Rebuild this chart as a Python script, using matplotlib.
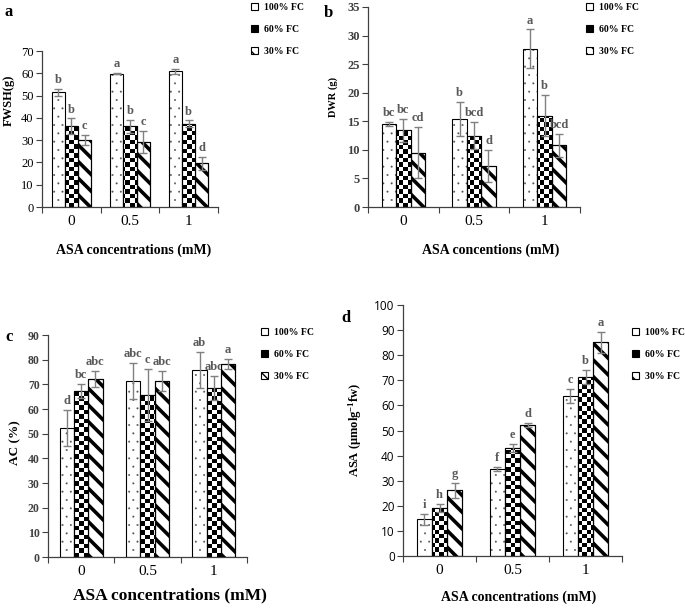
import numpy as np
import matplotlib
matplotlib.use('Agg')
import matplotlib.pyplot as plt
from matplotlib.patches import Patch

plt.rcParams['font.family'] = ['Liberation Serif', 'DejaVu Serif']
plt.rcParams['mathtext.fontset'] = 'custom'
plt.rcParams['mathtext.rm'] = 'Liberation Serif:bold'
plt.rcParams['mathtext.default'] = 'rm'

W, H = 685, 611

concs = ['0', '0.5', '1']
series = ['100% FC', '60% FC', '30% FC']

# panel a - FWSH (g)
fwsh = [[51.4, 59.8, 60.9], [36.2, 36.2, 37.4], [30.0, 29.2, 19.7]]
fwsh_err = [[1.7, 0.3, 1.0], [3.6, 3.0, 1.5], [2.4, 5.0, 2.9]]
fwsh_let = [['b', 'a', 'a'], ['b', 'b', 'b'], ['c', 'c', 'd']]

# panel b - DWR (g)
dwr = [[14.5, 15.4, 27.7], [13.45, 12.5, 16.0], [9.5, 7.2, 10.8]]
dwr_err = [[0.4, 3.0, 3.4], [2.0, 2.4, 3.6], [4.5, 2.8, 2.0]]
dwr_let = [['bc', 'b', 'a'], ['bc', 'bcd', 'b'], ['cd', 'd', 'bcd']]

# panel c - AC (%)
ac = [[52.3, 71.4, 75.9], [67.3, 65.7, 68.6], [72.2, 71.3, 78.2]]
ac_err = [[7.3, 7.2, 7.3], [3.0, 10.6, 4.9], [3.1, 4.2, 2.1]]
ac_let = [['d', 'abc', 'ab'], ['bc', 'c', 'abc'], ['abc', 'abc', 'a']]

# panel d - ASA
asa = [[14.6, 34.6, 63.8], [19.1, 43.1, 71.3], [26.2, 52.1, 85.1]]
asa_err = [[2.3, 0.9, 2.9], [1.7, 1.7, 2.7], [3.0, 0.9, 4.3]]
asa_let = [['i', 'f', 'c'], ['h', 'e', 'b'], ['g', 'd', 'a']]

fig = plt.figure(figsize=(W / 100, H / 100), dpi=100)


def px_ax(l, t, r, b):
    return fig.add_axes([l / W, 1 - b / H, (r - l) / W, (b - t) / H])


def draw_panel(ax, vals, errs, lets, ymax, ystep, bw, ytick_kw, xfs=11):
    x = np.arange(len(concs))
    ax.set_xlim(-0.5, len(concs) - 0.5)
    ax.set_ylim(0, ymax)
    pos = ax.get_position()
    nx = int(pos.width * W / 4.4)
    ny = int(pos.height * H / 4.4)
    board = (np.add.outer(np.arange(ny), np.arange(nx)) % 2).astype(float)
    for i in range(3):
        xs = x + (i - 1) * bw
        if i == 0:
            with plt.rc_context({'hatch.linewidth': 0.2}):
                ax.bar(xs, vals[i], bw, color='white', edgecolor='#555555',
                       hatch='..', linewidth=0, zorder=2)
        elif i == 2:
            with plt.rc_context({'hatch.linewidth': 2.6}):
                ax.bar(xs, vals[i], bw, color='white', edgecolor='black',
                       hatch='\\\\', linewidth=0.8, zorder=2)
        else:
            bars = ax.bar(xs, vals[i], bw, color='white', edgecolor='black',
                          linewidth=0.8, zorder=2)
            for p in bars:
                im = ax.imshow(board, cmap='gray', interpolation='nearest',
                               extent=(-0.5, len(concs) - 0.5, 0, ymax),
                               origin='lower', aspect='auto', zorder=2.5)
                im.set_clip_path(p)
        ax.bar(xs, vals[i], bw, facecolor='none', edgecolor='black',
               linewidth=0.8, zorder=3)
        ax.errorbar(xs, vals[i], yerr=errs[i], fmt='none', ecolor='#808080',
                    elinewidth=1, capsize=3, capthick=1, zorder=4)
        for xx, v, e, s in zip(xs, vals[i], errs[i], lets[i]):
            ax.annotate(s, (xx, v + e), xytext=(0, 2), textcoords='offset points',
                        ha='center', va='bottom', color='#595959',
                        fontweight='bold', fontsize=9)
    ax.set_xlim(-0.5, len(concs) - 0.5)
    ax.set_ylim(0, ymax)
    ax.set_yticks(np.arange(0, ymax + 0.1, ystep))
    ax.set_xticks([-0.5, 0.5, 1.5, 2.5])
    ax.set_xticklabels([])
    ax.set_xticks(x, minor=True)
    ax.set_xticklabels(concs, minor=True, fontsize=xfs)
    ax.tick_params(axis='x', which='major', length=4, direction='out', color='#404040')
    ax.tick_params(axis='x', which='minor', length=0, pad=6)
    ax.tick_params(axis='y', length=4, direction='out', color='#404040', pad=2)
    for t in ax.get_yticklabels():
        t.set(**ytick_kw)
    for s in ['top', 'right']:
        ax.spines[s].set_visible(False)
    for s in ['left', 'bottom']:
        ax.spines[s].set_color('#404040')
        ax.spines[s].set_linewidth(0.9)


handles = [Patch(facecolor='white', edgecolor='black', linewidth=0.8),
           Patch(facecolor='black', edgecolor='black', linewidth=0.8),
           Patch(facecolor='white', edgecolor='black', hatch='\\\\\\', linewidth=0.8)]


def add_legend(ax, lx, ty):
    ax.legend(handles, series, loc='upper left', bbox_to_anchor=(lx / W, 1 - ty / H),
              bbox_transform=fig.transFigure, frameon=False,
              prop={'weight': 'bold', 'size': 7}, handlelength=0.7, handleheight=0.7,
              handletextpad=0.6, labelspacing=1.35, borderpad=0, borderaxespad=0)


def ftext(x, y, s, **kw):
    fig.text(x / W, 1 - y / H, s, ha='center', va='center', **kw)


reg = {'fontsize': 9, 'color': 'black'}
bold = {'fontsize': 9, 'fontweight': 'bold', 'color': '#404040'}
sans = {'fontsize': 8.5, 'family': 'Open Sans', 'color': 'black'}

axa = px_ax(42, 51, 218, 207)
draw_panel(axa, fwsh, fwsh_err, fwsh_let, 70, 10, 0.225, reg)
add_legend(axa, 251, 3)

axb = px_ax(368, 7, 580, 207)
draw_panel(axb, dwr, dwr_err, dwr_let, 35, 5, 0.205, bold)
add_legend(axb, 586, 3)

axc = px_ax(48, 335, 247, 557)
draw_panel(axc, ac, ac_err, ac_let, 90, 10, 0.215, dict(bold, fontsize=8.5))
add_legend(axc, 261, 328)

axd = px_ax(403, 305, 622, 556)
draw_panel(axd, asa, asa_err, asa_let, 100, 10, 0.21, sans)
add_legend(axd, 632, 328)

pl = {'fontsize': 12, 'fontweight': 'bold'}
ftext(9, 12, 'a', **pl)
ftext(328, 13, 'b', **pl)
ftext(9, 337, 'c', **pl)
ftext(346, 318, 'd', **pl)

yl = {'fontsize': 9, 'fontweight': 'bold', 'rotation': 90}
ftext(9, 100, 'FWSH(g)', **yl)
ftext(333, 97, 'DWR (g)', **dict(yl, fontsize=7.5))
ftext(15, 443, 'AC (%)', **dict(yl, fontsize=9.5))
ftext(355, 430, r'ASA ($\mu$molg$^{-1}$fw)', **yl)

xl = {'fontsize': 10, 'fontweight': 'bold'}
ftext(134, 250, 'ASA concentrations (mM)', **xl)
ftext(491, 250, 'ASA concentions (mM)', **xl)
ftext(170, 595, 'ASA concentrations (mM)', **dict(xl, fontsize=12.5))
ftext(519, 597, 'ASA concentrations (mM)', **xl)

fig.savefig('out.png', dpi=100)
